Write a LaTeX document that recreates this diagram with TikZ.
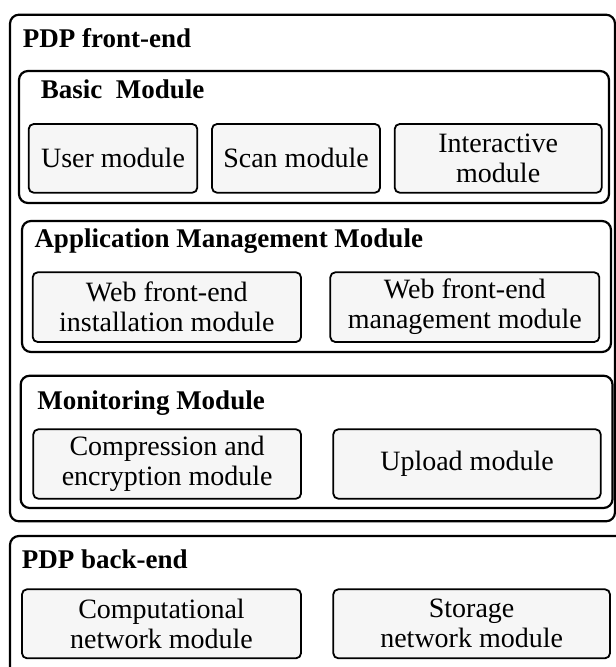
\documentclass[tikz,border=0pt]{standalone}
\usepackage{fontspec}
\setmainfont{Liberation Serif}

\definecolor{modfill}{HTML}{F6F6F6}
\newcommand{\modfont}{\fontsize{28}{30}\selectfont}
\newcommand{\headfont}{\fontsize{27}{30}\selectfont\bfseries}

\tikzset{
  group/.style     = {shape=rectangle, rounded corners=9pt,
                      draw, line width=2.2pt, fill=white},
  module/.style    = {shape=rectangle, rounded corners=5pt,
                      draw, line width=1.8pt, fill=modfill,
                      align=center, font=\modfont},
  grouptitle/.style = {anchor=base west, inner sep=0pt, font=\headfont}
}

\begin{document}
\begin{tikzpicture}
[
x=1pt, y=-1pt
  ]
\useasboundingbox (0,0) rectangle (616,667);
\clip (0,0) rectangle (616,667);

% front-end
\node[group, minimum width=605pt, minimum height=506.6pt] (front) at (312.5,268) {};
\node[grouptitle] (fronttitle) at (22.7,47.3) {PDP front-end};

\node[group, minimum width=590pt, minimum height=132pt] (basic) at (314,137) {};
\node[grouptitle] (basictitle) at (40.7,98.7) {Basic~~Module};
\node[module, minimum width=168.6pt, minimum height=68.7pt] (user) at (113,158.35) {User module};
\node[module, minimum width=168pt, minimum height=68.7pt] (scan) at (296,158.35) {Scan module};
\node[module, minimum width=207pt, minimum height=68.7pt] (inter) at (498.2,158.35) {Interactive\\module};

\node[group, minimum width=589pt, minimum height=131pt] (app) at (316.5,286.5) {};
\node[grouptitle] (apptitle) at (34.3,247.7) {Application Management Module};
\node[module, minimum width=268.3pt, minimum height=69.7pt] (webinst) at (166.85,307.15) {Web front-end\\installation module};
\node[module, minimum width=269pt, minimum height=69.7pt] (webmgmt) at (464.8,307.15) {Web front-end\\management module};

\node[group, minimum width=591.9pt, minimum height=132.3pt] (monit) at (316.6,441.85) {};
\node[grouptitle] (monittitle) at (37.3,409.3) {Monitoring Module};
\node[module, minimum width=267.7pt, minimum height=69.4pt] (compr) at (167.15,464) {Compression and\\encryption module};
\node[module, minimum width=267.4pt, minimum height=69.4pt] (upload) at (467,464) {Upload module};

% back-end
\node[group, minimum width=640pt, minimum height=184pt] (back) at (330,628) {};
\node[grouptitle] (backtitle) at (21.7,568.7) {PDP back-end};
\node[module, minimum width=279pt, minimum height=69pt] (comp) at (161.5,623.8) {Computational\\network module};
\node[module, minimum width=276.7pt, minimum height=69pt] (storage) at (471.65,623.8) {Storage\\network module};
\end{tikzpicture}
\end{document}
